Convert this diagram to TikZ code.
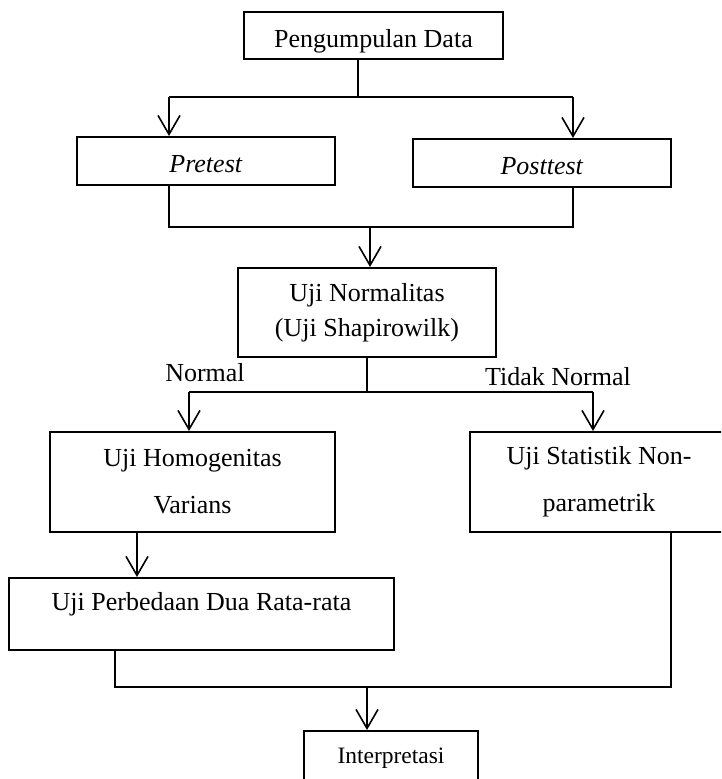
\documentclass[tikz,border=0pt]{standalone}
\usepackage{fontspec}
\setmainfont{Liberation Serif}
\usetikzlibrary{arrows.meta}

\begin{document}
\begin{tikzpicture}[x=1pt, y=-1pt,
    kotak/.style={draw, line width=2pt, inner sep=0pt, align=center, font=\fontsize{26}{31}\selectfont},
    garis/.style={line width=1.6pt},
    panah/.style={garis, -{Straight Barb[length=19pt, width=22pt]}},
    ket/.style={font=\fontsize{26}{31}\selectfont}]
        \useasboundingbox (0,0) rectangle (721,779);
        \clip (0,0) rectangle (721,779);

        \node[kotak, minimum width=259pt, minimum height=47pt, text height=23pt, text depth=0pt] (kumpul) at (373.5,35.5) {Pengumpulan Data};
        \node[kotak, minimum width=258pt, minimum height=48pt, text height=22pt, text depth=0pt] (pre) at (206,161) {\textit{Pretest}};
        \node[kotak, minimum width=258pt, minimum height=48pt, text height=22pt, text depth=0pt] (post) at (542,163) {\textit{Posttest}};
        \node[kotak, minimum width=258pt, minimum height=89pt] (norm) at (367,312.5) {Uji Normalitas\\[4pt](Uji Shapirowilk)};
        \node[kotak, minimum width=285pt, minimum height=100pt] (homog) at (192.5,482) {Uji Homogenitas\\[16pt]Varians};
        \node[kotak, minimum width=258pt, minimum height=100pt] (nonpar) at (599,482) {Uji Statistik Non-\\[16pt]parametrik};
        \node[kotak, minimum width=385pt, minimum height=72pt, text height=18pt, text depth=26pt] (beda) at (201.5,614) {Uji Perbedaan Dua Rata-rata};
        \node[kotak, minimum width=174pt, minimum height=64pt, text height=16pt, text depth=16pt, font=\fontsize{23.5}{28}\selectfont] (interp) at (391,763) {Interpretasi};

        \node[ket] (normal) at (205,373) {Normal};
        \node[ket] (tidak) at (558,377) {Tidak Normal};

        % pengumpulan data ke pretest / posttest
        \coordinate (a) at (358,97);
        \coordinate (al) at (169,97);
        \coordinate (ar) at (573,97);
        \draw[garis] (a |- kumpul.south) -- (a);
        \draw[garis] (al) -- (ar);
        \draw[panah] (al) -- (al |- pre.north);
        \draw[panah] (ar) -- (ar |- post.north);

        % pretest / posttest ke uji normalitas
        \coordinate (bl) at (169,227);
        \coordinate (br) at (573,227);
        \coordinate (b) at (370,227);
        \draw[garis] (bl |- pre.south) -- (bl) -- (br) -- (br |- post.south);
        \draw[panah] (b) -- (b |- norm.north);

        % normal / tidak normal
        \coordinate (c) at (367,392);
        \coordinate (cl) at (189,392);
        \coordinate (cr) at (593,392);
        \draw[garis] (c |- norm.south) -- (c);
        \draw[garis] (cl) -- (cr);
        \draw[panah] (cl) -- (cl |- homog.north);
        \draw[panah] (cr) -- (cr |- nonpar.north);

        \coordinate (d) at (137,555);
        \draw[panah] (d |- homog.south) -- (d |- beda.north);

        % ke interpretasi
        \coordinate (el) at (115,687);
        \coordinate (er) at (671,687);
        \coordinate (e) at (367,687);
        \draw[garis] (el |- beda.south) -- (el) -- (er) -- (er |- nonpar.south);
        \draw[panah] (e) -- (e |- interp.north);
\end{tikzpicture}
\end{document}
